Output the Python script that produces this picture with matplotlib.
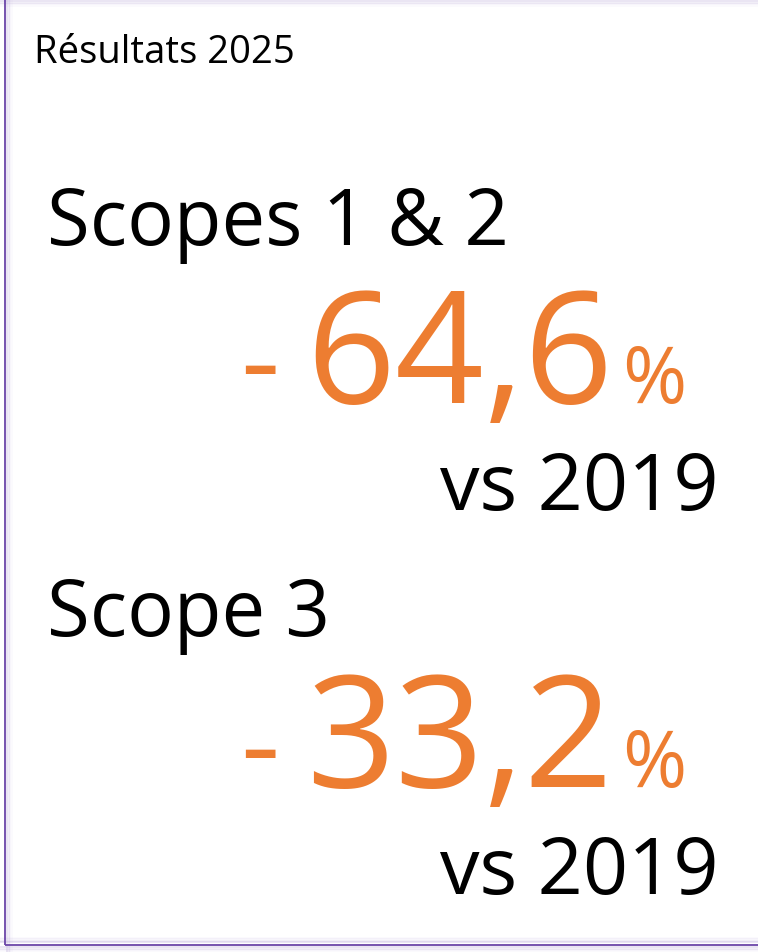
import matplotlib.pyplot as plt

# Card content
header = 'Résultats 2025'
scope_labels = ['Scopes 1 & 2', 'Scope 3']
reductions = ['64,6', '33,2']
baseline_note = 'vs 2019'

orange = '#ED7D31'
purple = '#6B45A8'

plt.rcParams['font.family'] = ['Open Sans', 'DejaVu Sans']

W, H = 758, 952
fig = plt.figure(figsize=(W / 100, H / 100), dpi=100)
ax = fig.add_axes([0, 0, 1, 1])
ax.set_xlim(0, W)
ax.set_ylim(H, 0)
ax.axis('off')

# soft lavender frame / shadow
for i, a in enumerate([0.35, 0.22, 0.12, 0.06]):
    ax.axhline(1 + i * 1.5, color='#b8a6d8', lw=1.2, alpha=a)
    ax.axvline(7 + i * 1.5, color='#b8a6d8', lw=1.2, alpha=a)
    ax.axhline(942 - i * 1.5, color='#b8a6d8', lw=1.2, alpha=a)
    ax.axhline(947 + i * 1.5, color='#b8a6d8', lw=1.2, alpha=a)
ax.plot([5, 5], [0, 945], color=purple, lw=1.3, solid_capstyle='butt')
ax.plot([5, W], [945, 945], color=purple, lw=1.3, solid_capstyle='butt')

ax.text(34, 63, header, fontsize=27.5, color='black', va='baseline', ha='left')

blocks = [(245, 403, 510), (636, 787, 894)]
for label, value, (y_lab, y_val, y_note) in zip(scope_labels, reductions, blocks):
    ax.text(47, y_lab, label, fontsize=56, color='black', va='baseline', ha='left')
    ax.text(240, y_val, '-', fontsize=88, color=orange, va='baseline', ha='left')
    ax.text(613, y_val, value, fontsize=112, color=orange, va='baseline', ha='right')
    ax.text(622, y_val, '%', fontsize=56, color=orange, va='baseline', ha='left')
    ax.text(719, y_note, baseline_note, fontsize=57, color='black', va='baseline', ha='right')

plt.savefig('out.png', dpi=100)
